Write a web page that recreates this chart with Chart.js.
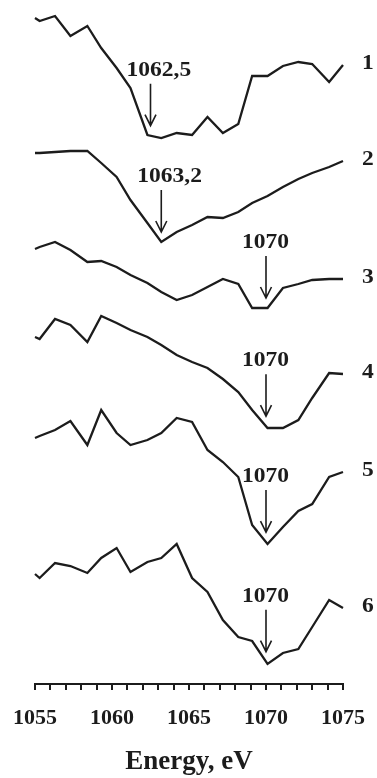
<!DOCTYPE html>
<html>
<head>
<meta charset="utf-8">
<script src="https://cdn.jsdelivr.net/npm/chart.js@4/dist/chart.umd.min.js"></script>
<style>
  html, body { margin: 0; padding: 0; background: #ffffff; }
  #wrap { width: 377px; height: 778px; position: relative; }
</style>
</head>
<body>
<div id="wrap"><canvas id="chart"></canvas></div>
<script>
// Photon energy grid, eV (shared by all spectra)
const energy = [1055, 1055.3, 1056.3, 1057.3, 1058.4, 1059.3, 1060.3, 1061.2, 1062.3, 1063.2, 1064.2,
                1065.2, 1066.2, 1067.2, 1068.2, 1069.1, 1070.1, 1071.1, 1072.1, 1073.0, 1074.1, 1075];

// Spectra, arbitrary units, vertically offset (1 = top, 6 = bottom)
const spectrum1 = [66.6, 66.3, 66.8, 64.8, 65.8, 63.6, 61.6, 59.6, 54.9, 54.6, 55.1,
                   54.9, 56.7, 55.1, 56.0, 60.8, 60.8, 61.8, 62.2, 62.0, 60.2, 61.9];
const spectrum2 = [53.1, 53.1, 53.2, 53.3, 53.3, 52.1, 50.7, 48.4, 46.1, 44.2, 45.2,
                   45.9, 46.7, 46.6, 47.2, 48.1, 48.8, 49.7, 50.5, 51.1, 51.7, 52.3];
const spectrum3 = [43.5, 43.7, 44.2, 43.4, 42.2, 42.3, 41.7, 40.9, 40.1, 39.2, 38.4,
                   38.9, 39.7, 40.5, 40.0, 37.6, 37.6, 39.6, 40.0, 40.4, 40.5, 40.5];
const spectrum4 = [34.7, 34.5, 36.5, 35.9, 34.2, 36.8, 36.1, 35.4, 34.7, 33.9, 32.9,
                   32.2, 31.6, 30.5, 29.2, 27.4, 25.6, 25.6, 26.4, 28.6, 31.1, 31.0];
const spectrum5 = [24.6, 24.8, 25.4, 26.3, 23.9, 27.4, 25.1, 23.9, 24.4, 25.1, 26.6,
                   26.2, 23.4, 22.2, 20.7, 15.9, 14.0, 15.7, 17.3, 18.0, 20.7, 21.2];
const spectrum6 = [11.0, 10.6, 12.1, 11.8, 11.1, 12.6, 13.6, 11.2, 12.2, 12.6, 14.0,
                   10.6, 9.2, 6.4, 4.7, 4.3, 2.0, 3.1, 3.5, 5.7, 8.4, 7.6];

const spectra = [spectrum1, spectrum2, spectrum3, spectrum4, spectrum5, spectrum6];
const curveLabels = ['1', '2', '3', '4', '5', '6'];

// Marked minima
const peakEnergy = [1062.5, 1063.2, 1070, 1070, 1070, 1070];
const peakText = ['1062,5', '1063,2', '1070', '1070', '1070', '1070'];

// Axis range and labelled ticks
const energyMin = 1055;
const energyMax = 1075;
const labelledTicks = [1055, 1060, 1065, 1070, 1075];

const INK = '#1c1c1c';
const SERIF = "'Liberation Serif', 'Times New Roman', serif";

function valueAt(series, e) {
  for (let i = 0; i < energy.length - 1; i++) {
    if (e >= energy[i] && e <= energy[i + 1]) {
      const t = (e - energy[i]) / (energy[i + 1] - energy[i]);
      return series[i] + t * (series[i + 1] - series[i]);
    }
  }
  return series[series.length - 1];
}

function drawStretched(ctx, text, x, y, align) {
  const sx = 1.12;
  ctx.save();
  ctx.translate(x, y);
  ctx.scale(sx, 1);
  ctx.textAlign = align;
  ctx.fillText(text, 0, 0);
  ctx.restore();
}

const annotations = {
  id: 'annotations',
  afterDatasetsDraw(chart) {
    const { ctx, scales: { x, y }, chartArea } = chart;
    ctx.save();
    ctx.fillStyle = INK;
    ctx.strokeStyle = INK;
    ctx.font = 'bold 21px ' + SERIF;

    // arrows pointing at the minima, with their energies
    spectra.forEach((series, i) => {
      const px = x.getPixelForValue(peakEnergy[i]);
      const tipY = y.getPixelForValue(valueAt(series, peakEnergy[i])) - 10;
      const tailY = tipY - 42;
      ctx.lineWidth = 1.6;
      ctx.beginPath();
      ctx.moveTo(px, tailY);
      ctx.lineTo(px, tipY);
      ctx.moveTo(px - 5.5, tipY - 11);
      ctx.lineTo(px, tipY);
      ctx.lineTo(px + 5.5, tipY - 11);
      ctx.stroke();
      ctx.textBaseline = 'alphabetic';
      drawStretched(ctx, peakText[i], px - 24, tailY - 8, 'left');
    });

    // curve numbers at the right end
    spectra.forEach((series, i) => {
      const last = series[series.length - 1];
      ctx.textBaseline = 'middle';
      drawStretched(ctx, curveLabels[i], chartArea.right + 25, y.getPixelForValue(last) - 1, 'center');
    });
    ctx.restore();
  }
};

new Chart(document.getElementById('chart'), {
  type: 'line',
  data: {
    labels: energy,
    datasets: spectra.map((series, i) => ({
      label: curveLabels[i],
      data: series.map((v, k) => ({ x: energy[k], y: v })),
      borderColor: INK,
      borderWidth: 2.3,
      pointRadius: 0,
      tension: 0,
      fill: false,
      clip: false
    }))
  },
  options: {
    responsive: true,
    maintainAspectRatio: false,
    animation: false,
    layout: { autoPadding: false, padding: { left: 35, right: 34, top: 0, bottom: 0 } },
    plugins: { legend: { display: false }, tooltip: { enabled: false } },
    scales: {
      x: {
        type: 'linear',
        min: energyMin,
        max: energyMax,
        afterFit(scale) { scale.height = 94; },
        ticks: {
          stepSize: 1,
          autoSkip: false,
          maxRotation: 0,
          padding: 0,
          color: INK,
          font: { family: SERIF, size: 22, weight: 'bold', lineHeight: 2.6 },
          callback: (v) => labelledTicks.includes(v) ? String(v) : ''
        },
        grid: {
          drawOnChartArea: false,
          drawTicks: true,
          tickLength: 6,
          color: INK,
          lineWidth: 2
        },
        border: { display: true, color: INK, width: 2 },
        title: {
          display: true,
          text: 'Energy, eV',
          color: INK,
          font: { family: SERIF, size: 27, weight: 'bold' },
          padding: { top: 0, bottom: 0 }
        }
      },
      y: {
        display: false,
        min: 0,
        max: 68.4
      }
    }
  },
  plugins: [annotations]
});
</script>
</body>
</html>
